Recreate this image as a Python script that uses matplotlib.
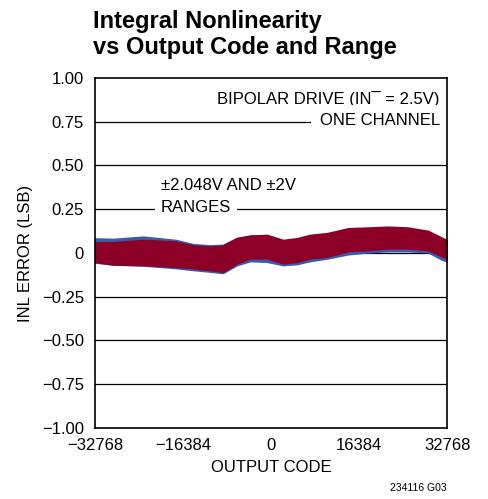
import matplotlib
matplotlib.use("Agg")
import matplotlib.pyplot as plt

plt.rcParams['font.family'] = ['Liberation Sans', 'DejaVu Sans']

# Données (enveloppes des deux nuages de points)
codes = [-32768, -29400, -23800, -17700, -14500, -11350, -8950, -6350, -3900,
         -750, 2250, 4850, 7250, 10450, 14350, 18050, 21800, 25500, 29250, 32000, 32768]
rouge_haut = [0.061, 0.061, 0.074, 0.065, 0.042, 0.036, 0.042, 0.084, 0.099, 0.103, 0.074,
              0.084, 0.103, 0.113, 0.141, 0.145, 0.150, 0.145, 0.126, 0.084, 0.074]
rouge_bas = [-0.051, -0.065, -0.069, -0.078, -0.087, -0.097, -0.107, -0.059, -0.030, -0.030,
             -0.059, -0.050, -0.030, -0.021, 0.011, 0.017, 0.027, 0.027, 0.017, -0.021, -0.029]
bleu_haut = [0.083, 0.080, 0.093, 0.074, 0.050, 0.043, 0.046, 0.086, 0.097, 0.100, 0.071,
             0.080, 0.100, 0.109, 0.134, 0.137, 0.143, 0.137, 0.120, 0.077, 0.069]
bleu_bas = [-0.054, -0.066, -0.071, -0.086, -0.097, -0.106, -0.114, -0.069, -0.046, -0.050,
            -0.069, -0.063, -0.046, -0.031, -0.007, 0.004, 0.011, 0.011, 0.004, -0.040, -0.046]

xticks = [-32768, -16384, 0, 16384, 32768]
xlabels = ['\u221232768', '\u221216384', '0', '16384', '32768']
yticks = [-1.0, -0.75, -0.5, -0.25, 0, 0.25, 0.5, 0.75, 1.0]
ylabels = ['\u22121.00', '\u22120.75', '\u22120.50', '\u22120.25', '0', '0.25', '0.50', '0.75', '1.00']

fig = plt.figure(figsize=(4.88, 4.99), dpi=100)
ax = fig.add_axes([0.1947, 0.1423, 0.7213, 0.7014])

for y in yticks[1:-1]:
    ax.axhline(y, color='black', lw=0.9, zorder=1)

ax.fill_between(codes, bleu_bas, bleu_haut, color='#3a5ba8', lw=1.2, ec='#3a5ba8', zorder=2)
ax.fill_between(codes, rouge_bas, rouge_haut, color='#8c0028', lw=1.2, ec='#8c0028', zorder=3)

ax.set_xlim(-32768, 32768)
ax.set_ylim(-1, 1)
ax.set_xticks(xticks, xlabels, fontsize=12)
ax.set_yticks(yticks, ylabels, fontsize=12)
ax.tick_params(axis='y', length=0, pad=8)
ax.tick_params(axis='x', length=0, pad=7)
for s in ax.spines.values():
    s.set_linewidth(1.2)
    s.set_zorder(5)

ax.set_xlabel('OUTPUT CODE', fontsize=12, labelpad=5)
ax.set_ylabel('INL ERROR (LSB)', fontsize=12, labelpad=6)

ax.text(31400, 0.88, 'BIPOLAR DRIVE (IN\u00af = 2.5V)', ha='right', va='center', fontsize=12)
ax.text(31400, 0.755, 'ONE CHANNEL', ha='right', va='center', fontsize=12, zorder=4,
        bbox=dict(facecolor='white', edgecolor='none', pad=6))
ax.text(-20500, 0.385, '\u00b12.048V AND \u00b12V', ha='left', va='center', fontsize=12)
ax.text(-20500, 0.262, 'RANGES', ha='left', va='center', fontsize=12, zorder=4,
        bbox=dict(facecolor='white', edgecolor='none', pad=4))

fig.text(0.19, 0.98, 'Integral Nonlinearity\nvs Output Code and Range', ha='left', va='top',
         fontsize=17, fontweight='bold', linespacing=1.15)
fig.text(0.915, 0.012, '234116 G03', ha='right', va='bottom', fontsize=7.5)

fig.savefig('out.png', dpi=100)
